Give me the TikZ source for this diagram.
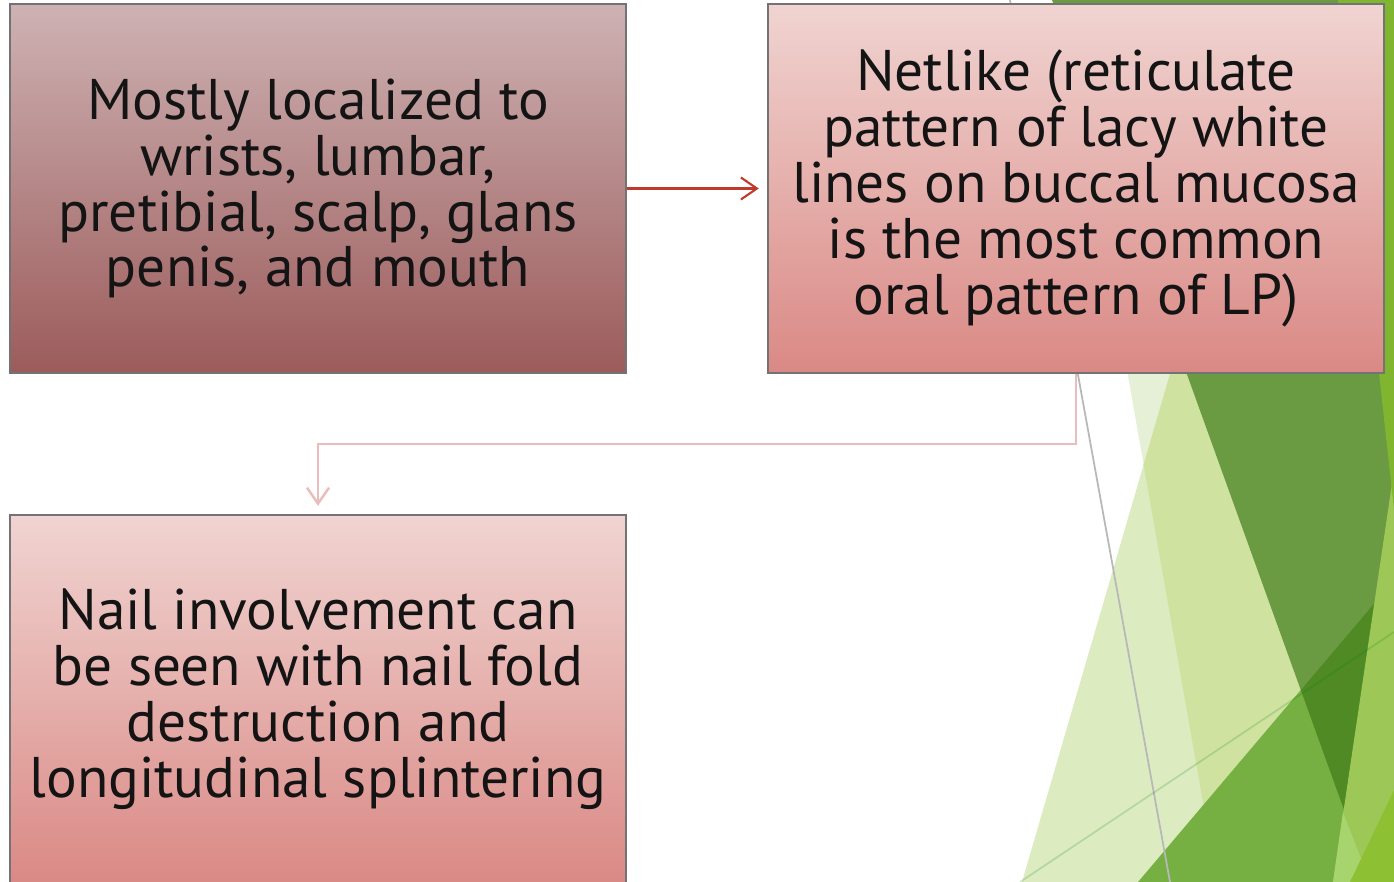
\documentclass[tikz,border=0pt]{standalone}
\usepackage{fontspec}
\setmainfont{PT Sans}
\usepackage{xcolor}
\usetikzlibrary{arrows.meta}
\definecolor{LPMauveTop}{HTML}{CEB2B3}
\definecolor{LPMauveBot}{HTML}{9C5B5B}
\definecolor{LPRoseTop}{HTML}{F0D4D1}
\definecolor{LPRoseBot}{HTML}{DA8985}
\definecolor{LPRed}{HTML}{C0392B}
\definecolor{LPPink}{HTML}{E9BDBC}
\definecolor{FacetPale}{HTML}{E6F0D6}
\definecolor{FacetLight}{HTML}{DCEBC0}
\definecolor{FacetMid}{HTML}{CFE2A0}
\definecolor{FacetDark}{HTML}{6A9A41}
\definecolor{FacetGrass}{HTML}{76B043}
\definecolor{FacetDeep}{HTML}{4F8A24}
\definecolor{FacetLime}{HTML}{9DC857}
\definecolor{FacetSoft}{HTML}{A8D46E}
\definecolor{FacetBright}{HTML}{7FB52F}
\definecolor{FacetCorner}{HTML}{8DC032}

\begin{document}
\begin{tikzpicture}[x=0.01cm,y=-0.01cm,
  box/.style={draw=black!55,line width=0.6pt,minimum width=6.16cm,minimum height=3.69cm,
    inner sep=0pt,align=center,text=black!92,font=\fontsize{16.3}{15.9}\selectfont},
  mauvebox/.style={box,top color=LPMauveTop,bottom color=LPMauveBot},
  rosebox/.style={box,top color=LPRoseTop,bottom color=LPRoseBot},
  redarrow/.style={LPRed,line width=0.6pt,-{Straight Barb[length=0.16cm,width=0.22cm,line width=0.6pt]}},
  pinkarrow/.style={LPPink,line width=0.7pt,-{Straight Barb[length=0.16cm,width=0.22cm,line width=0.7pt]}}]
\path[use as bounding box] (0,0) rectangle (1394,882);
\fill[white] (0,0) rectangle (1394,882);
% facet background
\fill[FacetPale] (1062,0) -- (1394,0) -- (1394,882) -- (1217,882) -- cycle;
\fill[FacetLight] (1279,0) -- (1394,0) -- (1394,882) -- (1022,882) -- cycle;
\fill[FacetMid] (1279,0) -- (1143.6,464.6) -- (1217,882) -- (1394,882) -- (1394,0) -- cycle;
\fill[FacetDark] (1052,0) -- (1394,0) -- (1394,882) -- (1370,882) -- cycle;
\fill[FacetGrass] (1138,882) -- (1394,580) -- (1394,882) -- cycle;
\fill[FacetDeep] (1300.8,690) -- (1394,580) -- (1394,882) -- (1370,882) -- cycle;
\fill[FacetLime] (1394,470) -- (1394,882) -- (1333,882) -- cycle;
\fill[FacetSoft] (1343,812) -- (1370,882) -- (1333,882) -- cycle;
\fill[FacetCorner] (1394,790) -- (1394,882) -- (1350,882) -- cycle;
\fill[FacetBright] (1338,0) -- (1394,0) -- (1394,510) -- cycle;
\draw[black!28,line width=0.5pt] (1010,0) -- (1170,882);
\draw[black!50!green,opacity=0.18,line width=0.5pt] (1020,882) -- (1394,632);
% boxes
\node[mauvebox] (loc) at (318,188.5) {Mostly localized to\\wrists, lumbar,\\pretibial, scalp, glans\\penis, and mouth};
\node[rosebox] (net) at (1076,188.5) {Netlike (reticulate\\pattern of lacy white\\lines on buccal mucosa\\is the most common\\oral pattern of LP)};
\node[rosebox] (nail) at (318,699.5) {Nail involvement can\\be seen with nail fold\\destruction and\\longitudinal splintering};
% connectors
\draw[redarrow,shorten >=0.08cm] (loc.east) -- (net.west);
\draw[pinkarrow,shorten >=0.08cm] (net.south) -- ++(0,70) -| (nail.north);
\end{tikzpicture}
\end{document}
